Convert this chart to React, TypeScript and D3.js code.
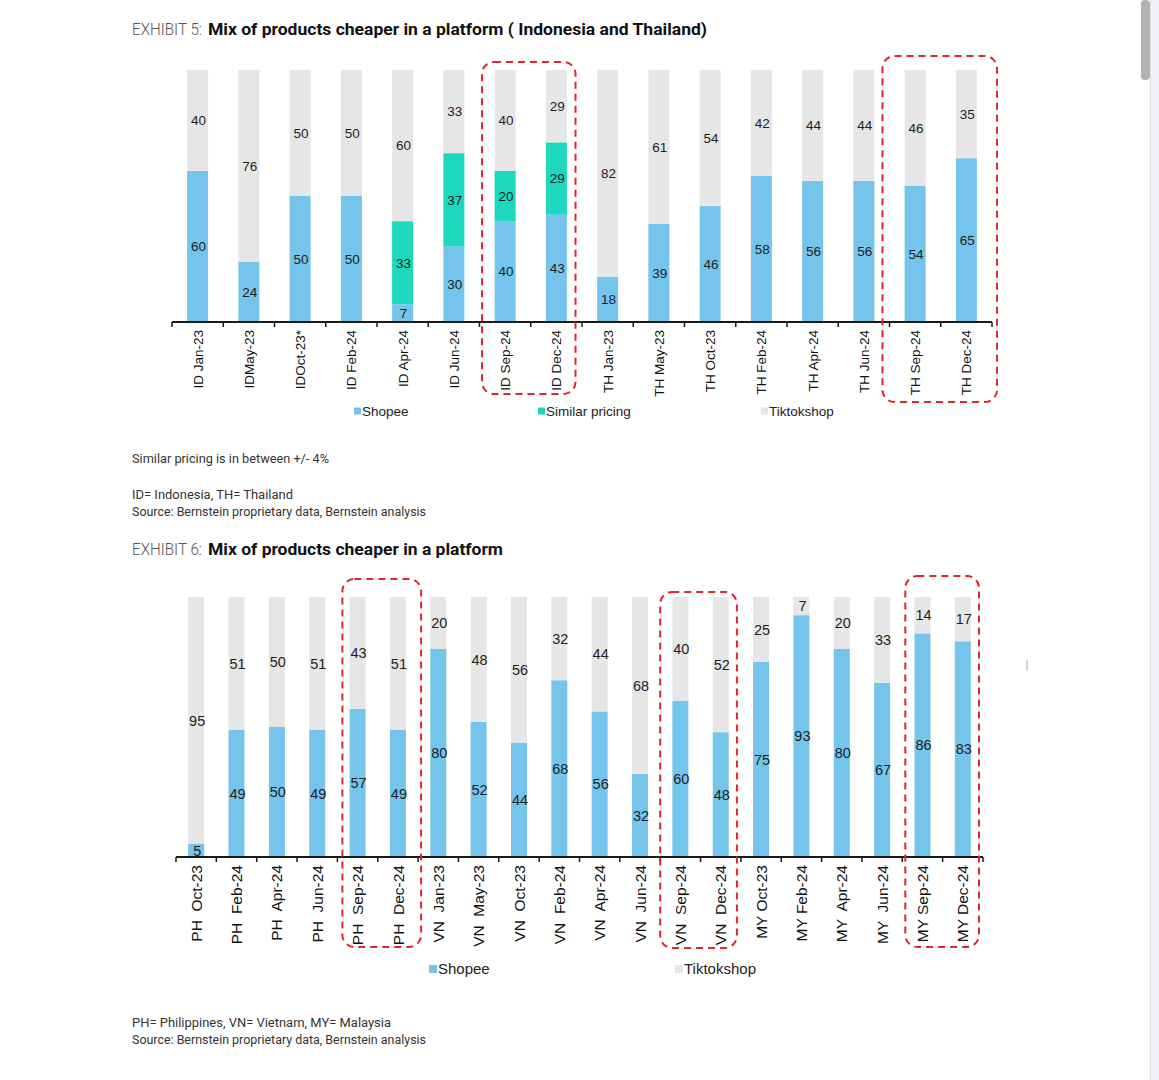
import React from 'react';
import * as d3 from 'd3';

// ---- Exhibit 5 data (Indonesia / Thailand) ----
const ex5Categories = [
  'ID Jan-23', 'IDMay-23', 'IDOct-23*', 'ID Feb-24', 'ID Apr-24', 'ID Jun-24', 'ID Sep-24', 'ID Dec-24',
  'TH Jan-23', 'TH May-23', 'TH Oct-23', 'TH Feb-24', 'TH Apr-24', 'TH Jun-24', 'TH Sep-24', 'TH Dec-24',
];
const ex5Shopee = [60, 24, 50, 50, 7, 30, 40, 43, 18, 39, 46, 58, 56, 56, 54, 65];
const ex5Similar = [0, 0, 0, 0, 33, 37, 20, 29, 0, 0, 0, 0, 0, 0, 0, 0];
const ex5Tiktok = [40, 76, 50, 50, 60, 33, 40, 29, 82, 61, 54, 42, 44, 44, 46, 35];

// ---- Exhibit 6 data (Philippines / Vietnam / Malaysia) ----
const ex6Categories = [
  'PH  Oct-23', 'PH  Feb-24', 'PH  Apr-24', 'PH  Jun-24', 'PH  Sep-24', 'PH  Dec-24',
  'VN  Jan-23', 'VN  May-23', 'VN  Oct-23', 'VN  Feb-24', 'VN  Apr-24', 'VN  Jun-24', 'VN  Sep-24', 'VN  Dec-24',
  'MY Oct-23', 'MY Feb-24', 'MY  Apr-24', 'MY  Jun-24', 'MY Sep-24', 'MY Dec-24',
];
const ex6Shopee = [5, 49, 50, 49, 57, 49, 80, 52, 44, 68, 56, 32, 60, 48, 75, 93, 80, 67, 86, 83];
const ex6Tiktok = [95, 51, 50, 51, 43, 51, 20, 48, 56, 32, 44, 68, 40, 52, 25, 7, 20, 33, 14, 17];

const COLORS: Record<string, string> = {
  Shopee: '#74C4EB',
  'Similar pricing': '#1DD8BF',
  Tiktokshop: '#E6E6E6',
};

const CHART_FONT = '"Liberation Sans", Arial, sans-serif';
const TEXT_FONT = 'Roboto, "Noto Sans", sans-serif';

interface Highlight {
  from: string;
  to: string;
  dx0: number;
  dx1: number;
  top: number;
  bottom: number;
}

interface StackedProps {
  categories: string[];
  series: { key: string; values: number[] }[];
  x0: number;
  x1: number;
  yTop: number;
  yBase: number;
  barWidth: number;
  valueFont: number;
  labelFont: number;
  legendY: number;
  legendX: number[];
  legendFont: number;
  legendMarker: number;
  highlights: Highlight[];
}

const StackedChart: React.FC<StackedProps> = (p) => {
  const n = p.categories.length;
  const step = (p.x1 - p.x0) / n;
  const inner = 1 - p.barWidth / step;
  const x = d3.scaleBand<string>().domain(p.categories).range([p.x0, p.x1]).paddingInner(inner).paddingOuter(inner / 2);
  const y = d3.scaleLinear().domain([0, 1]).range([p.yBase, p.yTop]);

  const keys = p.series.map((s) => s.key);
  const rows = p.categories.map((c, i) => {
    const r: Record<string, any> = { cat: c };
    p.series.forEach((s) => (r[s.key] = s.values[i]));
    return r;
  });
  // shares are normalised to 100% (e.g. 43+29+29)
  const stacked = d3.stack<Record<string, any>>().keys(keys).offset(d3.stackOffsetExpand)(rows);

  const boundaries = d3.range(n + 1).map((i) => p.x0 + i * step);

  return (
    <g>
      {stacked.map((layer) => (
        <g key={layer.key} fill={COLORS[layer.key]}>
          {layer.map((d, i) => {
            const raw = p.series.find((s) => s.key === layer.key)!.values[i];
            if (!raw) return null;
            const bx = x(p.categories[i])!;
            return (
              <rect key={i} x={bx} width={x.bandwidth()} y={y(d[1])} height={y(d[0]) - y(d[1])} />
            );
          })}
        </g>
      ))}

      {stacked.map((layer) =>
        layer.map((d, i) => {
          const raw = p.series.find((s) => s.key === layer.key)!.values[i];
          if (!raw) return null;
          const cx = x(p.categories[i])! + x.bandwidth() / 2;
          const cy = (y(d[0]) + y(d[1])) / 2;
          return (
            <text
              key={`${layer.key}-${i}`}
              x={cx + 1}
              y={cy}
              dy="0.36em"
              textAnchor="middle"
              fontSize={p.valueFont}
              fontFamily={CHART_FONT}
              fill="#1e1e1e"
            >
              {raw}
            </text>
          );
        })
      )}

      {/* axis */}
      <line x1={p.x0} x2={p.x1} y1={p.yBase} y2={p.yBase} stroke="#1a1a1a" strokeWidth={2} />
      {boundaries.map((bx, i) => (
        <line key={i} x1={bx} x2={bx} y1={p.yBase} y2={p.yBase + 5} stroke="#1a1a1a" strokeWidth={1.5} />
      ))}
      {p.categories.map((c) => {
        const cx = x(c)! + x.bandwidth() / 2;
        const ly = p.yBase + 8;
        return (
          <text
            key={c}
            transform={`translate(${cx},${ly}) rotate(-90)`}
            textAnchor="end"
            dy="0.36em"
            fontSize={p.labelFont}
            fontFamily={CHART_FONT}
            fill="#111"
            style={{ whiteSpace: 'pre' }}
          >
            {c}
          </text>
        );
      })}

      {/* highlight boxes */}
      {p.highlights.map((h, i) => {
        const left = x(h.from)! - (x.step() - x.bandwidth()) / 2 + h.dx0;
        const right = x(h.to)! + x.bandwidth() + (x.step() - x.bandwidth()) / 2 + h.dx1;
        return (
          <rect
            key={i}
            x={left}
            y={h.top}
            width={right - left}
            height={h.bottom - h.top}
            rx={12}
            fill="none"
            stroke="#E0252B"
            strokeWidth={2}
            strokeDasharray="7 5"
          />
        );
      })}

      {/* legend */}
      {keys.map((k, i) => (
        <g key={k} transform={`translate(${p.legendX[i]},${p.legendY})`}>
          <rect x={0} y={-p.legendMarker / 2} width={p.legendMarker} height={p.legendMarker} fill={COLORS[k]} />
          <text x={p.legendMarker + 1} dy="0.36em" fontSize={p.legendFont} fontFamily={CHART_FONT} fill="#222">
            {k}
          </text>
        </g>
      ))}
    </g>
  );
};

const Title: React.FC<{ y: number; label: string; title: string; titleWidth: number }> = ({ y, label, title, titleWidth }) => (
  <g fontFamily={TEXT_FONT} fontSize={17}>
    <text x={132} y={y} fill="#555" fontWeight={300} textLength={70} lengthAdjust="spacingAndGlyphs">
      {label}
    </text>
    <text x={208} y={y} fill="#111" fontWeight={700} textLength={titleWidth} lengthAdjust="spacingAndGlyphs">
      {title}
    </text>
  </g>
);

const Note: React.FC<{ y: number; w: number; children: string }> = ({ y, w, children }) => (
  <text x={132} y={y} fontFamily={TEXT_FONT} fontSize={12} fill="#333" textLength={w} lengthAdjust="spacingAndGlyphs">
    {children}
  </text>
);

export default function App() {
  return (
    <svg
      width={1159}
      height={1080}
      style={{ position: 'absolute', left: 0, top: 0, background: '#fff' }}
    >
      <rect width={1159} height={1080} fill="#fff" />

      <Title y={35} label="EXHIBIT 5:" title="Mix of products cheaper in a platform ( Indonesia and Thailand)" titleWidth={499} />
      <StackedChart
        categories={ex5Categories}
        series={[
          { key: 'Shopee', values: ex5Shopee },
          { key: 'Similar pricing', values: ex5Similar },
          { key: 'Tiktokshop', values: ex5Tiktok },
        ]}
        x0={172}
        x1={992}
        yTop={70}
        yBase={322}
        barWidth={21}
        valueFont={13.5}
        labelFont={13.5}
        legendY={411}
        legendX={[354, 538, 761]}
        legendFont={13.5}
        legendMarker={7}
        highlights={[
          { from: 'ID Sep-24', to: 'ID Dec-24', dx0: 2.5, dx1: -6.5, top: 62, bottom: 394 },
          { from: 'TH Sep-24', to: 'TH Dec-24', dx0: -7, dx1: 5, top: 56, bottom: 402 },
        ]}
      />
      <Note y={463} w={197}>Similar pricing is in between +/- 4%</Note>
      <Note y={499} w={161}>ID= Indonesia, TH= Thailand</Note>
      <Note y={516} w={294}>Source: Bernstein proprietary data, Bernstein analysis</Note>

      <Title y={555} label="EXHIBIT 6:" title="Mix of products cheaper in a platform" titleWidth={295} />
      <StackedChart
        categories={ex6Categories}
        series={[
          { key: 'Shopee', values: ex6Shopee },
          { key: 'Tiktokshop', values: ex6Tiktok },
        ]}
        x0={176}
        x1={983}
        yTop={597}
        yBase={857}
        barWidth={16}
        valueFont={14.5}
        labelFont={15.5}
        legendY={969}
        legendX={[429, 675]}
        legendFont={15}
        legendMarker={8}
        highlights={[
          { from: 'PH  Sep-24', to: 'PH  Dec-24', dx0: 5, dx1: 3, top: 579, bottom: 947 },
          { from: 'VN  Sep-24', to: 'VN  Dec-24', dx0: 0, dx1: -4, top: 592, bottom: 948 },
          { from: 'MY Sep-24', to: 'MY Dec-24', dx0: 3, dx1: -4, top: 576, bottom: 947 },
        ]}
      />
      <Note y={1027} w={259}>PH= Philippines, VN= Vietnam, MY= Malaysia</Note>
      <Note y={1044} w={294}>Source: Bernstein proprietary data, Bernstein analysis</Note>

      {/* page chrome */}
      <line x1={1027} x2={1027} y1={660} y2={671} stroke="#aaa" strokeWidth={1} />
      <rect x={1150} y={0} width={9} height={1080} fill="#f1f1f6" />
      <line x1={1150.5} x2={1150.5} y1={0} y2={1080} stroke="#e2e2ea" />
      <rect x={1141} y={0} width={9} height={80} rx={4} fill="#b3b3b3" />
    </svg>
  );
}
